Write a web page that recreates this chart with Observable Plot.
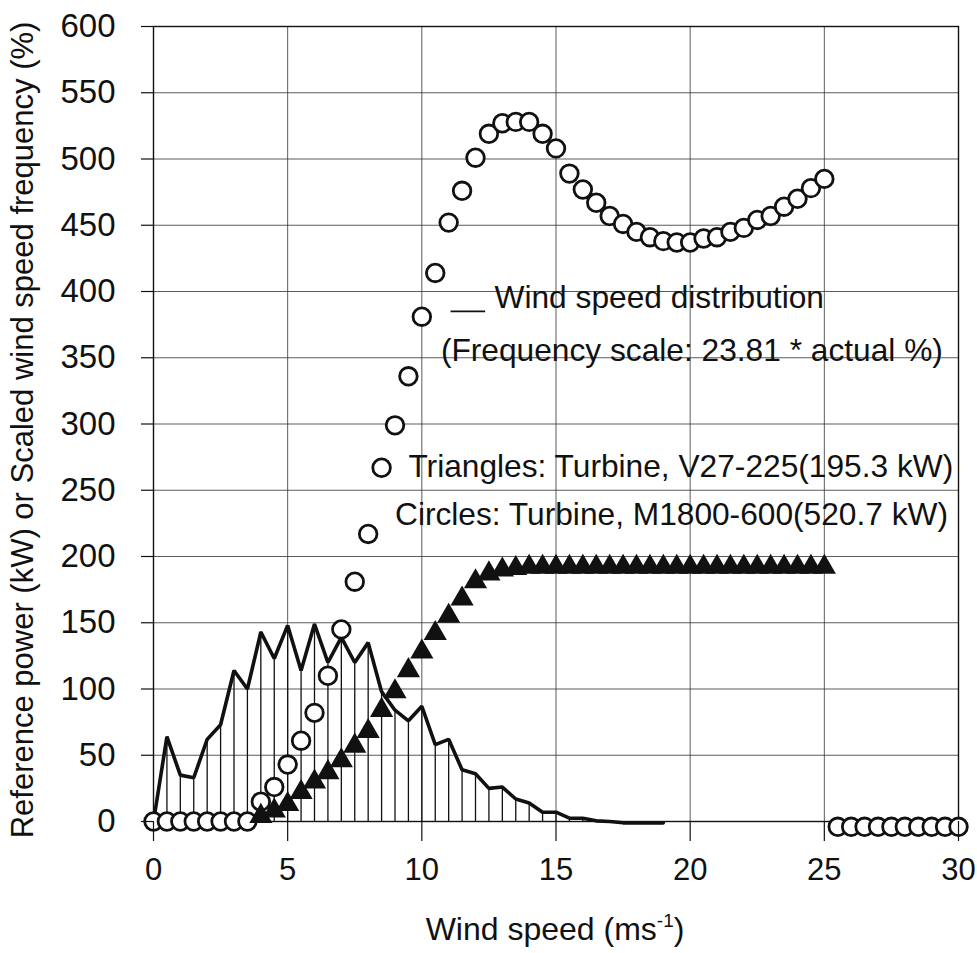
<!DOCTYPE html>
<html>
<head>
<meta charset="utf-8">
<script src="https://cdn.jsdelivr.net/npm/d3@7"></script>
<script src="https://cdn.jsdelivr.net/npm/@observablehq/plot@0.6"></script>
<style>
  html, body { margin: 0; padding: 0; background: #fff; }
  svg { display: block; }
</style>
</head>
<body>
<div id="chart"></div>
<script>
// ---------- data ----------
const histSpeed = [0,0.5,1,1.5,2,2.5,3,3.5,4,4.5,5,5.5,6,6.5,7,7.5,8,8.5,9,9.5,10,10.5,11,11.5,12,12.5,13,13.5,14,14.5,15,15.5,16,16.5,17,17.5,18,18.5,19];
const histFreq  = [0,64,35,33,62,73,114,100,143,123,148,114,149,120,139,120,135,98,84,76,87,58,62,39,36,25,26,17,14,7,7,2.5,2.5,0.5,0,-1,-1,-1,-1];

const circleSpeed = [0,0.5,1,1.5,2,2.5,3,3.5,4,4.5,5,5.5,6,6.5,7,7.5,8,8.5,9,9.5,10,10.5,11,11.5,12,12.5,13,13.5,14,14.5,15,15.5,16,16.5,17,17.5,18,18.5,19,19.5,20,20.5,21,21.5,22,22.5,23,23.5,24,24.5,25,25.5,26,26.5,27,27.5,28,28.5,29,29.5,30];
const circlePower = [0,0,0,0,0,0,0,0,15,26,43,61,82,110,145,181,217,267,299,336,381,414,452,476,501,519,527,528,528,519,508,489,477,467,457,451,445,441,438,437,437,440,441,445,448,454,457,464,470,478,485,-4,-4,-4,-4,-4,-4,-4,-4,-4,-4];

const triSpeed = [4,4.5,5,5.5,6,6.5,7,7.5,8,8.5,9,9.5,10,10.5,11,11.5,12,12.5,13,13.5,14,14.5,15,15.5,16,16.5,17,17.5,18,18.5,19,19.5,20,20.5,21,21.5,22,22.5,23,23.5,24,24.5,25];
const triPower = [4,8,13,22,30,37,46,57,68,84,98,114,128,142,155,168,181,187,190,191,192,192,192,192,192,192,192,192,192,192,192,192,192,192,192,192,192,192,192,192,192,192,192];

const xTicks = [0,5,10,15,20,25,30];
const yTicks = [0,50,100,150,200,250,300,350,400,450,500,550,600];

const legendLabels = [
  "Wind speed distribution",
  "(Frequency scale: 23.81 * actual %)",
  "Triangles: Turbine, V27-225(195.3 kW)",
  "Circles: Turbine, M1800-600(520.7 kW)"
];
const xTitle = ["Wind speed (ms", "-1", ")"];
const yTitle = "Reference power (kW) or Scaled wind speed frequency (%)";

// ---------- layout (annotation anchors, in data units) ----------
const legendAnchorX = [12.71, 10.71, 9.5, 9.0];
const legendAnchorY = [395.5, 355.5, 268, 231.5];
const legendDash = {x1: 11.07, x2: 12.36, y: 385};

// ---------- build tables ----------
const hist = histSpeed.map((s, i) => ({speed: s, freq: histFreq[i]}));
const circles = circleSpeed.map((s, i) => ({speed: s, power: circlePower[i]}));
const tris = triSpeed.map((s, i) => ({speed: s, power: triPower[i]}));
const legend = legendLabels.map((t, i) => ({label: t, x: legendAnchorX[i], y: legendAnchorY[i]}));

const FONT = "'Liberation Sans', Arial, Helvetica, sans-serif";
const INK = "#111";

const chart = Plot.plot({
  width: 977,
  height: 953,
  marginLeft: 153,
  marginRight: 19,
  marginTop: 26,
  marginBottom: 132,
  style: {fontFamily: FONT, fontSize: "31px", color: INK, background: "#fff", overflow: "visible"},
  x: {domain: [0, 30], label: null},
  y: {domain: [0, 600], label: null},
  marks: [
    Plot.gridX(xTicks, {stroke: "#333", strokeOpacity: 0.8, strokeWidth: 1}),
    Plot.gridY(yTicks, {stroke: "#333", strokeOpacity: 0.8, strokeWidth: 1}),
    Plot.frame({stroke: INK, strokeWidth: 1.4}),
    Plot.ruleX(hist, {x: "speed", y1: 0, y2: "freq", stroke: INK, strokeWidth: 1.3}),
    Plot.line(hist, {x: "speed", y: "freq", stroke: INK, strokeWidth: 3.6, strokeLinejoin: "miter"}),
    Plot.dot(circles, {x: "speed", y: "power", r: 8.8, symbol: "circle", fill: "#fff", stroke: INK, strokeWidth: 2.8}),
    Plot.dot(tris, {x: "speed", y: "power", r: 8.6, symbol: "triangle", fill: INK, stroke: "none"}),
    Plot.link([legendDash], {x1: "x1", x2: "x2", y1: "y", y2: "y", stroke: INK, strokeWidth: 1.6}),
    Plot.text(legend, {x: "x", y: "y", text: "label", textAnchor: "start", lineAnchor: "middle", fontSize: 31.7, fill: INK}),
    Plot.axisX(xTicks, {tickSize: 20, tickPadding: 16, fontSize: 31, stroke: INK, strokeWidth: 1.2}),
    Plot.axisY(yTicks, {tickSize: 12, tickPadding: 26, fontSize: 33, stroke: INK, strokeWidth: 1.2})
  ]
});

const svg = d3.select(chart);
// x axis title with superscript
const xt = svg.append("text")
  .attr("x", 555).attr("y", 940)
  .attr("text-anchor", "middle")
  .attr("font-family", FONT).attr("font-size", 32).attr("fill", INK);
xt.append("tspan").text(xTitle[0]);
xt.append("tspan").attr("font-size", 19).attr("dy", -13).text(xTitle[1]);
xt.append("tspan").attr("dy", 13).text(xTitle[2]);
// y axis title
svg.append("text")
  .attr("transform", "translate(33,430) rotate(-90)")
  .attr("text-anchor", "middle")
  .attr("font-family", FONT).attr("font-size", 31).attr("fill", INK)
  .text(yTitle);

document.getElementById("chart").appendChild(chart);
</script>
</body>
</html>
